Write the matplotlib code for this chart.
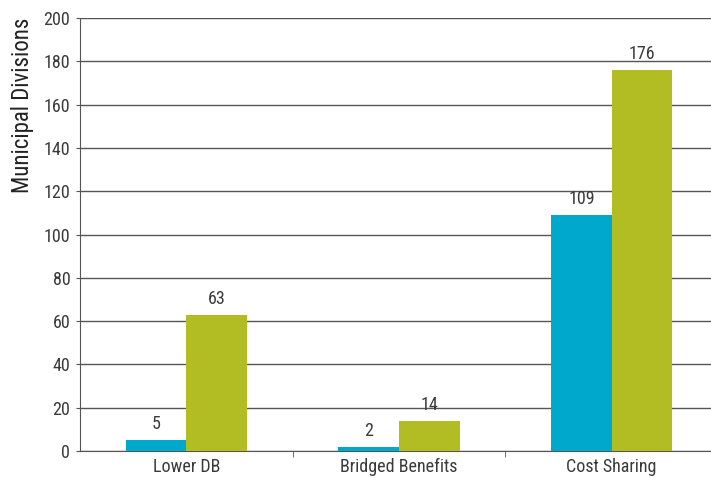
import numpy as np
import matplotlib.pyplot as plt

categories = ['Lower DB', 'Bridged Benefits', 'Cost Sharing']
series_a = [5, 2, 109]
series_b = [63, 14, 176]
yticks = [0, 20, 40, 60, 80, 100, 120, 140, 160, 180, 200]

plt.rcParams['font.family'] = ['Roboto Condensed', 'Liberation Sans Narrow', 'Roboto', 'DejaVu Sans']

blue = '#00a8cc'
green = '#b2bd24'
grid_c = '#555555'
text_c = '#3a3a3a'

fig = plt.figure(figsize=(7.11, 4.78), dpi=100)
ax = fig.add_axes([80 / 711, 1 - 451 / 478, 1 - 80 / 711, (451 - 18) / 478])

x = np.arange(len(categories))
w = 0.285
bars_a = ax.bar(x - w / 2, series_a, w, color=blue, zorder=3)
bars_b = ax.bar(x + w / 2, series_b, w, color=green, zorder=3)

for bars, vals in ((bars_a, series_a), (bars_b, series_b)):
    for b, v in zip(bars, vals):
        ax.annotate(str(v), (b.get_x() + b.get_width() / 2, v),
                    xytext=(0, 5), textcoords='offset points',
                    ha='center', va='bottom', fontsize=13, color=text_c)

ax.set_ylim(0, 200)
ax.set_xlim(-0.5, 2.467)
ax.set_yticks(yticks)
ax.yaxis.grid(True, color=grid_c, linewidth=1.0, zorder=0)
ax.set_axisbelow(True)

# category labels centred, tick marks on the category boundaries
ax.set_xticks(x)
ax.set_xticklabels(categories, fontsize=13, color=text_c)
ax.tick_params(axis='x', which='major', length=0, pad=5)
ax.set_xticks([0.5, 1.5], minor=True)
ax.tick_params(axis='x', which='minor', length=4, color=grid_c)
ax.tick_params(axis='y', length=3, color=grid_c, labelsize=13, labelcolor=text_c, pad=4)

for s in ['top', 'right']:
    ax.spines[s].set_visible(False)
ax.spines['left'].set_color(grid_c)
ax.spines['bottom'].set_color(grid_c)

fig.text(23 / 711, 1 - 105 / 478, 'Municipal Divisions', rotation=90,
         ha='center', va='center', fontsize=16.5, color='#222222')

plt.savefig('out.png', dpi=100)
